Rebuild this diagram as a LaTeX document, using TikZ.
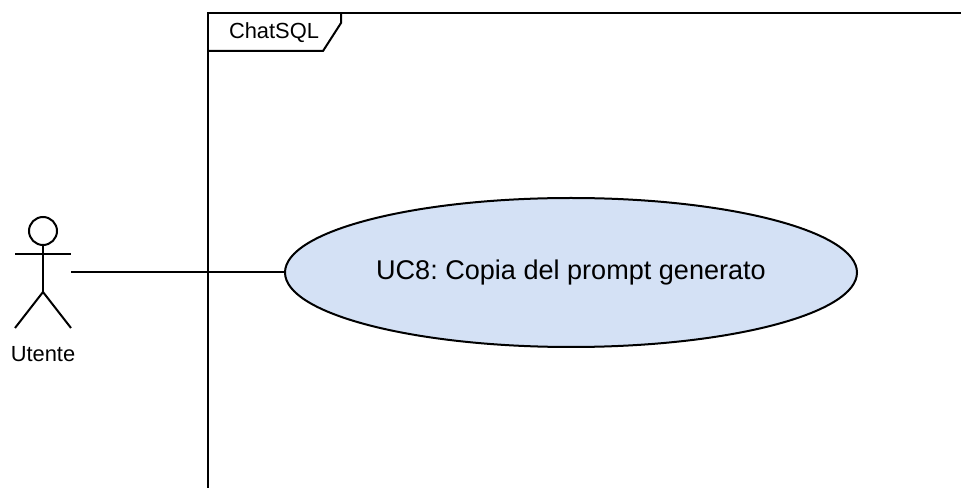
\documentclass[tikz,border=0pt]{standalone}
\usepackage{fontspec}
\setmainfont{Liberation Sans}
\frenchspacing
\usetikzlibrary{calc,positioning,shapes.geometric}
\definecolor{ucfill}{HTML}{D4E1F5}
\begin{document}
\begin{tikzpicture}[x=0.75pt,y=-0.75pt,line width=1.5pt,
    usecase/.style={ellipse,draw,fill=ucfill,inner sep=0pt,minimum width=429pt,minimum height=111.75pt},
    head/.style={circle,draw,inner sep=0pt,minimum size=21pt},
    lbl/.style={inner sep=0pt,anchor=center}]
 \useasboundingbox (0,0) rectangle (961,488);
 % frame
 \draw (961,13) -- (208,13) -- (208,488);
 \draw (341,13) -- (341,23) -- (323,51) -- (208,51);
 \node[lbl,font=\fontsize{16.4}{18}\selectfont] (NAME) at (274,32.5) {ChatSQL};
 % actor
 \node[head] (HEAD) at (43,231) {};
 \coordinate (HIP) at (43,292);
 \coordinate (ARML) at (15,254);
 \coordinate (ARMR) at (71,254);
 \coordinate (FOOTL) at (15,328);
 \coordinate (FOOTR) at (71,328);
 \coordinate (HAND) at (71,272.5);
 \draw (HEAD.south) -- (HIP);
 \draw (ARML) -- (ARMR);
 \draw (FOOTL) -- (HIP) -- (FOOTR);
 \node[lbl,font=\fontsize{16.4}{18}\selectfont] (UTENTE) at (43,354.5) {Utente};
 % use case
 \node[usecase,font=\fontsize{20.3}{24}\selectfont] (UC) at (571,272.5) {UC8: Copia del prompt generato};
 \draw (HAND) -- (UC.west);
\end{tikzpicture}
\end{document}
